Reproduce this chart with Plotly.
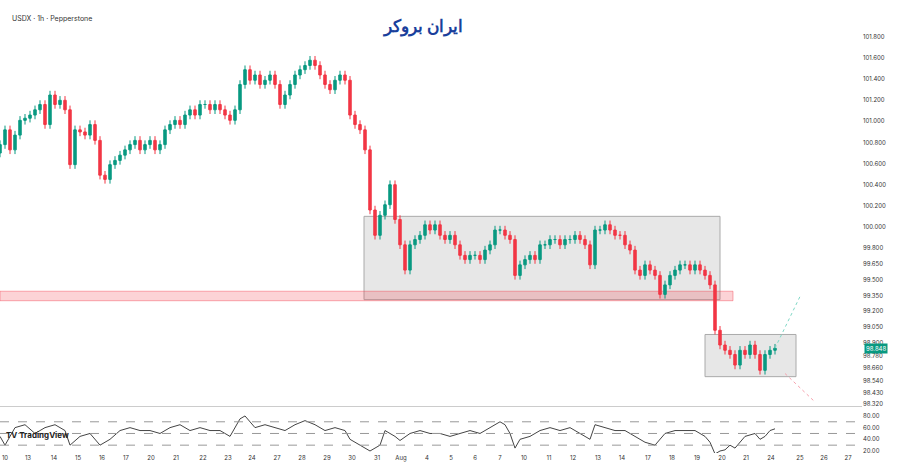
import plotly.graph_objects as go

closes = [100.78,100.92,100.73,100.87,101.01,101.03,101.06,101.11,101.16,100.97,101.25,101.16,101.20,101.11,100.59,100.92,100.90,100.87,100.97,100.82,
100.49,100.45,100.59,100.63,100.68,100.73,100.78,100.82,100.73,100.78,100.82,100.73,100.78,100.92,100.97,101.01,100.97,101.06,101.11,101.06,
101.16,101.16,101.11,101.16,101.11,101.06,101.01,101.11,101.35,101.49,101.39,101.44,101.35,101.39,101.44,101.35,101.16,101.25,101.35,101.44,
101.49,101.53,101.58,101.53,101.44,101.35,101.30,101.39,101.44,101.39,101.06,100.97,100.92,100.73,100.16,99.92,100.11,100.21,100.40,100.07,
99.83,99.59,99.83,99.88,99.92,100.02,99.97,100.02,99.92,99.88,99.92,99.83,99.73,99.69,99.73,99.73,99.69,99.78,99.83,99.97,
99.97,99.92,99.88,99.54,99.64,99.69,99.73,99.69,99.83,99.83,99.88,99.88,99.83,99.88,99.88,99.92,99.88,99.83,99.64,99.97,
99.97,100.02,99.97,99.92,99.92,99.83,99.78,99.59,99.54,99.64,99.59,99.54,99.36,99.45,99.54,99.59,99.64,99.64,99.59,99.64,
99.59,99.54,99.45,99.02,98.88,98.83,98.79,98.69,98.83,98.79,98.88,98.79,98.64,98.79,98.83,98.85]
opens = [100.70] + closes[:-1]
rsi = [45,30,60,65,50,60,65,55,30,45,50,30,40,55,60,55,55,50,60,65,55,60,55,55,45,75,80,60,65,60,55,65,72,65,55,60,55,40,30,20,
30,55,45,38,50,55,50,50,45,50,55,50,60,70,65,50,25,40,45,55,60,55,60,55,50,40,65,60,55,55,45,35,30,50,55,55,55,45,35,15,
20,22,30,25,35,45,50,40,45,55,58]
rsi_x = [0,1,3,5,7,9,11,13,14,16,18,20,22,24,26,28,30,32,34,36,38,40,42,44,46,48,49,51,53,55,57,59,61,63,65,67,69,70,72,74,
76,77,79,80,82,84,86,88,90,92,94,96,98,100,101,102,103,104,106,108,110,112,114,115,116,118,119,121,123,125,127,129,131,133,135,137,139,141,142,143,
144,145,146,147,148,149,151,152,153,154,155]
day_labels = ["10","13","14","15","16","17","20","21","22","23","24","27","28","29","30","31","Aug","4","5","6","7","10","11","12","13","14","17","18","19","20","21","24","25","26","27","28"]
day_px = [5,28,54,78,102,126,151,176,203,228,252,277,302,327,352,377,401,427,451,475,500,524,549,573,598,622,648,672,697,722,746,771,800,824,848,873]
price_ticks = [101.8,101.6,101.4,101.2,101.0,100.8,100.6,100.4,100.2,100.0,99.8,99.65,99.5,99.35,99.2,99.05,98.9,98.78,98.66,98.54,98.43,98.32]
rsi_ticks = [80,60,40,20]

x = list(range(len(closes)))
highs = [max(o, c) + 0.04 for o, c in zip(opens, closes)]
lows = [min(o, c) - 0.04 for o, c in zip(opens, closes)]
XR = [0, 172.4]

fig = go.Figure()
fig.add_trace(go.Candlestick(x=x, open=opens, high=highs, low=lows, close=closes,
    increasing=dict(line=dict(color="#089981", width=1), fillcolor="#089981"),
    decreasing=dict(line=dict(color="#f23645", width=1), fillcolor="#f23645"),
    whiskerwidth=0, showlegend=False, xaxis="x", yaxis="y"))
fig.add_trace(go.Scatter(x=rsi_x, y=rsi, mode="lines", line=dict(color="#444", width=1), showlegend=False,
                         xaxis="x2", yaxis="y2"))

fig.add_shape(type="rect", x0=72.8, x1=144, y0=99.31, y1=100.10, xref="x", yref="y", fillcolor="rgba(120,120,120,0.18)", line=dict(color="#aaa", width=1), layer="below")
fig.add_shape(type="rect", x0=0, x1=146.6, y0=99.30, y1=99.39, xref="x", yref="y", fillcolor="rgba(242,54,69,0.22)", line=dict(color="rgba(242,54,69,0.4)", width=1), layer="below")
fig.add_shape(type="rect", x0=141, x1=159.2, y0=98.58, y1=98.98, xref="x", yref="y", fillcolor="rgba(120,120,120,0.18)", line=dict(color="#aaa", width=1), layer="below")
fig.add_shape(type="line", x0=155, x1=160, y0=98.85, y1=99.34, xref="x", yref="y", line=dict(color="#7fd8c6", width=1, dash="dot"))
fig.add_shape(type="line", x0=157, x1=163, y0=98.61, y1=98.34, xref="x", yref="y", line=dict(color="#f7a1ad", width=1, dash="dot"))
for lv in [70, 50, 30]:
    fig.add_shape(type="line", x0=XR[0], x1=XR[1], y0=lv, y1=lv, xref="x2", yref="y2", line=dict(color="#999", width=1, dash="dash"))
fig.add_shape(type="line", x0=0, x1=1, y0=0.105, y1=0.105, xref="paper", yref="paper", line=dict(color="#ccc", width=1))

fig.add_annotation(text="USDX · 1h · Pepperstone", x=0.012, y=0.995, xref="paper", yref="paper", showarrow=False,
                   xanchor="left", yanchor="top", font=dict(size=7, color="#333", family="Inter"))
fig.add_annotation(text="<b>ایران بروکر</b>", x=0.49, y=0.995, xref="paper", yref="paper", showarrow=False,
                   xanchor="center", yanchor="top", font=dict(size=17, color="#1a3f9c", family="Noto Sans"))
fig.add_annotation(text="<b>TV TradingView</b>", x=0.005, y=0.025, xref="paper", yref="paper", showarrow=False,
                   xanchor="left", yanchor="bottom", font=dict(size=8, color="#222", family="Inter"))
fig.add_annotation(text="98.848", x=1.002, y=98.848, xref="paper", yref="y", showarrow=False, xanchor="left",
                   bgcolor="#089981", font=dict(size=6, color="white"), borderpad=1)

fig.update_layout(width=900, height=471, margin=dict(l=0, r=38, t=10, b=18, autoexpand=False), paper_bgcolor="white",
                  plot_bgcolor="white", font=dict(family="Inter"),
    xaxis=dict(range=XR, domain=[0, 1], anchor="y", showgrid=False, zeroline=False, rangeslider=dict(visible=False),
               showticklabels=False, automargin=False),
    xaxis2=dict(range=XR, domain=[0, 1], anchor="y2", matches="x", showgrid=False, zeroline=False, automargin=False,
                tickvals=[p/5 for p in day_px], ticktext=day_labels, tickfont=dict(size=6, color="#333")),
    yaxis=dict(domain=[0.1016, 1], side="right", range=[98.283, 102.056], tickvals=price_ticks, automargin=False,
               ticktext=[f"{v:.3f}" for v in price_ticks], showgrid=False, zeroline=False,
               tickfont=dict(size=6, color="#333")),
    yaxis2=dict(domain=[0, 0.095], side="right", range=[16.6, 88.6], tickvals=rsi_ticks, automargin=False,
                ticktext=[f"{v:.2f}" for v in rsi_ticks], showgrid=False, zeroline=False,
                tickfont=dict(size=6, color="#333")))
fig.write_html("out.html", config={"displayModeBar": False}, post_script="document.body.style.margin='0';")
